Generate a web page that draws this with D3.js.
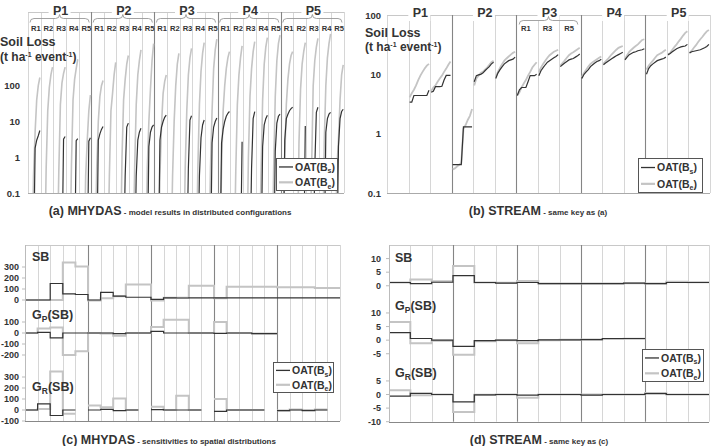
<!DOCTYPE html>
<html><head><meta charset="utf-8">
<script src="https://cdn.jsdelivr.net/npm/d3@7/dist/d3.min.js"></script>
<style>
body{margin:0;background:#fff}
svg{display:block}
text{font-family:"Liberation Sans",Arial,sans-serif;font-weight:bold;fill:#333}
</style></head><body>
<svg id="c" width="713" height="446"></svg>
<script>
// ---------- categories / ticks ----------
const pLabels = ["P1","P2","P3","P4","P5"];
const rLabelsA = ["R1","R2","R3","R4","R5"];
const rLabelsB = ["R1","R3","R5"];
const logTicks = [0.1, 1, 10, 100];
const logTickLabels = ["0.1","1","10","100"];
const cSbTicks = [0,100,200,300], cGpTicks = [-200,-100,0,100], cGrTicks = [-100,0,100,200,300];
const dSbTicks = [0,5,10], dGpTicks = [-5,0,5,10], dGrTicks = [-10,-5,0,5];

// ---------- (a) MHYDAS soil loss, sorted events per P/R (0.001 = below scale) ----------
const aBeP1 = [[0.001,0.001,0.001,0.3,5,40,100,170],[0.001,0.001,0.001,0.5,20,90,200,330],[0.001,0.001,0.001,0.4,30,120,220,330],[0.001,0.001,0.001,0.6,40,150,300,550],[0.001,0.001,0.001,0.001,0.3,3,20,55]];
const aBeP2 = [[0.001,0.001,0.001,0.5,10,50,100,140],[0.001,0.001,0.001,0.3,20,60,200,450],[0.001,0.001,0.001,1,40,150,400,700],[0.001,0.001,0.001,0.5,30,200,500,1000],[0.001,0.001,0.001,0.5,10,80,500,1500]];
const aBeP3 = [[0.001,0.001,0.001,0.3,8,60,130,200],[0.001,0.001,0.001,0.3,10,100,400,800],[0.001,0.001,0.001,0.5,20,200,600,1100],[0.001,0.001,0.001,0.5,30,250,800,1600],[0.001,0.001,0.001,0.5,20,300,1000,2000]];
const aBeP4 = [[0.001,0.001,0.5,20,100,300,600,900],[0.001,0.001,0.001,0.4,30,200,600,1300],[0.001,0.001,0.001,1,50,300,900,1700],[0.001,0.001,0.001,0.4,40,400,1200,2200],[0.001,0.001,0.001,0.5,50,500,1500,2600]];
const aBeP5 = [[0.001,0.001,1,30,150,400,700,900],[0.001,0.001,0.001,2.5,80,400,900,1600],[0.001,0.001,0.001,0.5,100,500,1200,2100],[0.001,0.001,0.001,2.7,100,600,1500,2800],[0.001,0.001,0.001,0.5,3,40,200,380]];
const aBsP1 = [[0.001,0.001,0.001,0.001,1.8,3,4,5.6],[0.001,0.001,0.001,0.001,0.001,0.001,0.001,0.001],[0.001,0.001,0.001,0.001,0.001,0.001,3.2,3.8],[0.001,0.001,0.001,0.001,0.001,0.001,2.9,3.3],[0.001,0.001,0.001,0.001,0.001,0.001,2.8,3.5]];
const aBsP2 = [[0.001,0.001,0.001,0.001,3,4.5,6,7.2],[0.001,0.001,0.001,0.001,0.001,0.001,0.001,0.001],[0.001,0.001,0.001,0.001,0.001,0.3,7,9],[0.001,0.001,0.001,0.001,0.3,3,5,6.5],[0.001,0.001,0.001,0.001,2,5,7,8]];
const aBsP3 = [[0.001,0.001,0.001,3,7,10,13,15],[0.001,0.001,0.001,0.001,0.001,0.001,0.001,0.001],[0.001,0.001,0.001,0.001,0.001,0.5,11,14.5],[0.001,0.001,0.001,0.001,0.3,3.5,8,11],[0.001,0.001,0.001,0.001,2.5,7,10,12.5]];
const aBsP4 = [[0.001,0.001,2.5,6,10,14,17,19],[0.001,0.001,0.001,0.001,0.001,0.001,0.001,2.7],[0.001,0.001,0.001,0.001,0.001,0.5,12,19],[0.001,0.001,0.001,0.001,2,8,12,15],[0.001,0.001,0.001,0.001,1.5,9,14,16]];
const aBsP5 = [[0.001,0.001,3,12,16,20,23,25],[0.001,0.001,0.001,0.001,0.001,0.001,0.001,7.5],[0.001,0.001,0.001,0.001,0.001,0.5,18,25],[0.001,0.001,0.001,0.001,5,12,16,18],[0.001,0.001,0.001,0.001,2,12,19,22]];

// ---------- (b) STREAM soil loss (R1, R3, R5 per P; null = no data) ----------
const bBeP1 = [null,[4.1,4.8,5.5,6.5,8,9.5,11,12.5,14,15],[5.2,6,6.5,7.5,8.5,9.5,11,12.5,14.5,16.5]];
const bBeP2 = [[0.25,0.26,0.28,0.3,0.32,1.2,1.4,1.7,2.0,2.6],[6.5,8.5,9.5,10.5,11,12,13,14.5,16,17],[9,11,13,15,17,18.5,20,21.5,23,24]];
const bBeP3 = [[4.4,5,6,7,8,9.5,11,13,14.5,16],[11,13,15,17,19,21,22.5,24,25,26],[14,15.5,17,19,21,22.5,23.5,25,26.5,28]];
const bBeP4 = [[9,10.5,12,13.5,15,16,17,18,19,20],[15,16.5,18,20,22,24,26,28,29,30],[18,21,24,26,28,30,32,35,38,39]];
const bBeP5 = [[12,14,15.5,17,19,21,22,23,24.5,26],[21,23,26,29,32,36,40,45,50,53],[23,25,28,31,35,39,43,48,53,56]];
const bBsP1 = [null,[3.4,3.4,4.4,4.4,4.4,4.4,4.4,4.4,4.4,5.4],[5.0,5.2,6.2,6.2,6.2,6.3,8,9.6,9.6,9.6]];
const bBsP2 = [[0.3,0.3,0.3,0.3,0.3,1.3,1.3,1.3,1.3,1.3],[7.5,9.5,9.8,10,10.5,11.5,12.5,13.5,15,16],[8.5,10.5,12,13.5,15,16,17,17.5,18,19.5]];
const bBsP3 = [[4.4,5.5,6,6,6,7.5,9.5,9.5,9.5,10],[9.5,11.5,13,14.5,16,17,18,19,20,21.5],[13.5,14.5,15.5,16.5,17.5,18,18.5,19.5,20.5,22]];
const bBsP4 = [[8.5,10,11,12,13.5,14.5,15.5,16.5,17,18],[14.5,15.5,16.5,17.5,18.5,19.5,20.5,21.5,22.5,23.5],[17.5,19.5,21.5,22.5,23.5,24,25,25.5,26,27]];
const bBsP5 = [[10,12.5,14,15,16,17,17.5,18,18.5,19.5],[21.5,22.5,24,25.5,27,28,29,29.5,30,32],[23,24,24.5,25,25.5,26,27,28,29.5,32]];

// ---------- (c) MHYDAS sensitivities (25 = P1R1..P5R5) ----------
const cSbBs = [0,0,150,55,50, 0,70,35,25,25, 5,20,18,20,20, 20,20,20,20,20, 20,20,20,20,20];
const cSbBe = [0,0,0,340,305, -5,15,35,140,140, -5,20,20,130,130, 15,120,120,120,120, 115,115,115,110,110];
const cGpBs = [0,5,-45,0,0, 0,0,-5,0,0, 15,0,0,0,0, -3,0,0,-5,-5, null,null,null,null,null];
const cGpBe = [0,40,50,-200,-165, 0,-5,-25,0,0, 55,120,120,0,0, 100,0,0,-5,-5, null,null,null,null,null];
const cGrBs = [0,55,-50,0,null, 0,5,-5,0,null, 3,0,0,0,null, -12,0,0,0,null, -5,0,-5,0,null];
const cGrBe = [0,10,350,-35,null, 40,25,105,0,null, 30,0,130,0,null, 100,0,0,0,null, -5,5,0,5,null];

// ---------- (d) STREAM sensitivities (15 = P1R1..P5R5) ----------
const dSbBs = [1.2,0.8,1.3, 3.7,1.2,1.0, 1.2,0.8,0.8, 0.8,0.8,1.0, 0.8,1.2,1.2];
const dSbBe = [1.2,2.3,1.7, 7.3,1.2,1.1, 1.8,0.8,0.8, 0.8,0.8,0.9, 0.8,1.5,1.3];
const dGpBs = [2.8,0.6,0, -2.3,-0.2,0, -0.2,0.1,0.1, 0.2,0.6,0.6, null,null,null];
const dGpBe = [6.7,-1.1,-0.2, -5.4,-0.4,0, -1.1,0,0.1, 0.2,0.4,0.5, null,null,null];
const dGrBs = [-0.6,0.4,0, -2.7,-0.1,0, -0.2,0,0, -0.2,0,0, 0.3,0,0];
const dGrBe = [1.6,-0.3,0, -6.4,-0.1,0, -1.2,0,0, 0,0,0, 0.6,0,0];

// ---------- styles ----------
const BE = "#c4c4c4", BS = "#333";
const svg = d3.select("#c");
let clipId = 0;

function frame(L, R, T, B, nP, nR, bottomColor) {
  const g = svg.append("g");
  const x = d3.scaleLinear().domain([0, nP*nR]).range([L, R]);
  const n = nP*nR;
  for (let k = 0; k <= n; k++) {
    if (k % nR === 0 && k > 0 && k < n) continue;
    const xx = Math.round(x(k)) + 0.5;
    g.append("line").attr("x1", xx).attr("x2", xx).attr("y1", T).attr("y2", B)
      .attr("stroke", "#d6d6d6").attr("stroke-width", 1);
  }
  g.append("line").attr("x1", L).attr("x2", R).attr("y1", Math.round(T)+0.5).attr("y2", Math.round(T)+0.5).attr("stroke", "#c8c8c8");
  g.append("line").attr("x1", L).attr("x2", R).attr("y1", Math.round(B)+0.5).attr("y2", Math.round(B)+0.5).attr("stroke", bottomColor || "#aaa");
  for (let p = 1; p < nP; p++) {
    const xx = Math.round(x(p*nR)) + 0.5;
    g.append("line").attr("x1", xx).attr("x2", xx).attr("y1", T).attr("y2", B)
      .attr("stroke", "#858585").attr("stroke-width", 1.1);
  }
  const id = "clip" + (clipId++);
  svg.append("clipPath").attr("id", id).append("rect")
    .attr("x", L).attr("y", T).attr("width", R-L).attr("height", B-T);
  return {x, id};
}

function brace(x0, x1, y) {
  const m = (x0+x1)/2;
  return `M${x0},${y+4} Q${x0},${y} ${x0+4},${y} L${m-4},${y} Q${m},${y} ${m},${y-4} Q${m},${y} ${m+4},${y} L${x1-4},${y} Q${x1},${y} ${x1},${y+4}`;
}

function legend(x, y, w, h) {
  const g = svg.append("g");
  g.append("rect").attr("x", x+0.5).attr("y", y+0.5).attr("width", w).attr("height", h)
    .attr("fill", "#fff").attr("stroke", "#555").attr("stroke-width", 1);
  [["s", BS, 1.3], ["e", BE, 2.2]].forEach((d, i) => {
    const cy = y + h*0.28 + i*h*0.48;
    g.append("line").attr("x1", x+3).attr("x2", x+17).attr("y1", cy).attr("y2", cy)
      .attr("stroke", d[1]).attr("stroke-width", d[2]);
    const t = g.append("text").attr("x", x+19).attr("y", cy+3.8).attr("font-size", 10.5);
    t.append("tspan").text("OAT(B");
    t.append("tspan").attr("font-size", 7).attr("dy", 2.5).text(d[0]);
    t.append("tspan").attr("dy", -2.5).text(")");
  });
}

function soilLossTitle(x, y1, y2) {
  svg.append("text").attr("x", x).attr("y", y1).attr("font-size", 12.5).text("Soil Loss");
  const t = svg.append("text").attr("x", x).attr("y", y2).attr("font-size", 12);
  t.append("tspan").text("(t ha");
  t.append("tspan").attr("font-size", 7).attr("dy", -4).text("-1");
  t.append("tspan").attr("dy", 4).text(" event");
  t.append("tspan").attr("font-size", 7).attr("dy", -4).text("-1");
  t.append("tspan").attr("dy", 4).text(")");
}

function caption(cx, y, big, small) {
  const t = svg.append("text").attr("x", cx).attr("y", y).attr("text-anchor", "middle");
  t.append("tspan").attr("font-size", 12.5).text(big);
  t.append("tspan").attr("font-size", 8).text("  - " + small);
}

function subLabel(x, y, main, sub) {
  const t = svg.append("text").attr("x", x).attr("y", y).attr("font-size", 12.5);
  t.append("tspan").text(main);
  if (sub) {
    t.append("tspan").attr("font-size", 8.5).attr("dy", 3).text(sub);
    t.append("tspan").attr("dy", -3).text("(SB)");
  }
}

function pHeader(x, nR, T, ty) {
  pLabels.forEach((p, i) => {
    const cx = x(i*nR + nR/2);
    svg.append("rect").attr("x", cx-11).attr("y", T-6).attr("width", 22).attr("height", 12).attr("fill", "#fff");
    svg.append("text").attr("x", cx+1).attr("y", ty).attr("text-anchor", "middle").attr("font-size", 12.5).text(p);
  });
}

// ================= (a) =================
{
  const L = 28, R = 344, T = 12, B = 193;
  const f = frame(L, R, T, B, 5, 5);
  const y = d3.scaleLog().domain([0.1, 10000]).range([B, 14.2]);
  const g = svg.append("g").attr("clip-path", `url(#${f.id})`);
  const line = d3.line();
  const draw = (groups, color, w) => groups.forEach((vals, k) => {
    const pts = vals.map((v, j) => [f.x(k + (j + 0.5)/vals.length), y(v)]);
    g.append("path").attr("d", line(pts)).attr("fill", "none").attr("stroke", color).attr("stroke-width", w);
  });
  draw([aBeP1, aBeP2, aBeP3, aBeP4, aBeP5].flat(), BE, 1.6);
  draw([aBsP1, aBsP2, aBsP3, aBsP4, aBsP5].flat(), BS, 1.2);
  logTicks.forEach((t, i) => {
    svg.append("text").attr("x", 20).attr("y", y(t)+3.5).attr("text-anchor", "end").attr("font-size", 9.5).text(logTickLabels[i]);
  });
  pHeader(f.x, 5, T, 15);
  for (let p = 0; p < 5; p++) {
    svg.append("path").attr("d", brace(f.x(p*5)+2, f.x(p*5+5)-2, 18.5))
      .attr("fill", "none").attr("stroke", "#999").attr("stroke-width", 0.9);
    rLabelsA.forEach((r, i) => {
      svg.append("text").attr("x", f.x(p*5+i+0.5)+1.5).attr("y", 30.5).attr("text-anchor", "middle")
        .attr("font-size", 7.6).attr("fill", "#444").text(r);
    });
  }
  soilLossTitle(0, 46, 61);
  legend(276, 158, 61, 32);
  caption(170, 215, "(a) MHYDAS", "model results in distributed configurations");
}

// ================= (b) =================
{
  const L = 387, R = 710, T = 15, B = 193;
  const f = frame(L, R, T, B, 5, 3);
  const y = d3.scaleLog().domain([0.1, 100]).range([B, T]);
  const g = svg.append("g").attr("clip-path", `url(#${f.id})`);
  const line = d3.line();
  const draw = (groups, color, w) => groups.forEach((vals, k) => {
    if (!vals) return;
    const pts = vals.map((v, j) => [f.x(k + 0.05 + 0.9*j/(vals.length-1)), y(v)]);
    g.append("path").attr("d", line(pts)).attr("fill", "none").attr("stroke", color).attr("stroke-width", w);
  });
  draw([bBeP1, bBeP2, bBeP3, bBeP4, bBeP5].flat(), BE, 1.8);
  draw([bBsP1, bBsP2, bBsP3, bBsP4, bBsP5].flat(), BS, 1.2);
  logTicks.forEach((t, i) => {
    svg.append("text").attr("x", 381).attr("y", y(t)+3.5).attr("text-anchor", "end").attr("font-size", 9.5).text(logTickLabels[i]);
  });
  pHeader(f.x, 3, T, 17);
  svg.append("path").attr("d", brace(f.x(6)+3, f.x(9)-3, 20.5))
    .attr("fill", "none").attr("stroke", "#999").attr("stroke-width", 0.9);
  rLabelsB.forEach((r, i) => {
    svg.append("text").attr("x", f.x(6+i+0.5)-1).attr("y", 31).attr("text-anchor", "middle")
      .attr("font-size", 7.6).attr("fill", "#444").text(r);
  });
  soilLossTitle(365, 37, 51);
  legend(638, 158, 64, 34);
  caption(538, 215, "(b) STREAM", "same key as (a)");
}

// ---------- step panels ----------
function stepPanel(L, R, T, B, nR, domain, series, offsets, tickSets, tickX) {
  const f = frame(L, R, T, B, 5, nR, "#888");
  const y = d3.scaleLinear().domain(domain).range([B, T]);
  const g = svg.append("g").attr("clip-path", `url(#${f.id})`);
  const line = d3.line().defined(d => d != null);
  series.forEach(([vals, off, color, w]) => {
    const pts = vals.flatMap((v, k) => v == null ? [null] : [[f.x(k), y(v+off)], [f.x(k+1), y(v+off)]]);
    g.append("path").attr("d", line(pts)).attr("fill", "none").attr("stroke", color).attr("stroke-width", w);
  });
  tickSets.forEach((ticks, i) => ticks.forEach(t => {
    const yy = y(t + offsets[i]);
    svg.append("text").attr("x", tickX).attr("y", yy+3.3).attr("text-anchor", "end").attr("font-size", 9).text(String(t));
    svg.append("line").attr("x1", L-3).attr("x2", L).attr("y1", yy).attr("y2", yy).attr("stroke", "#bbb");
  }));
  svg.append("line").attr("x1", L+0.5).attr("x2", L+0.5).attr("y1", T).attr("y2", B).attr("stroke", "#bbb");
  return f;
}

// ================= (c) =================
{
  const off = [1000, 700, 0];
  stepPanel(25, 340, 245, 421, 5, [-100, 1500], [
    [cSbBe, off[0], BE, 2], [cGpBe, off[1], BE, 2], [cGrBe, off[2], BE, 2],
    [cSbBs, off[0], BS, 1.2], [cGpBs, off[1], BS, 1.2], [cGrBs, off[2], BS, 1.2]
  ], off, [cSbTicks, cGpTicks, cGrTicks], 19);
  subLabel(32, 261, "SB");
  subLabel(32, 319, "G", "P");
  subLabel(32, 391, "G", "R");
  legend(273, 362, 60, 30);
  caption(169, 444, "(c) MHYDAS", "sensitivities to spatial distributions");
}

// ================= (d) =================
{
  const off = [40, 20, 0];
  stepPanel(389, 709, 245, 421.7, 3, [-10, 55], [
    [dSbBe, off[0], BE, 2], [dGpBe, off[1], BE, 2], [dGrBe, off[2], BE, 2],
    [dSbBs, off[0], BS, 1.2], [dGpBs, off[1], BS, 1.2], [dGrBs, off[2], BS, 1.2]
  ], off, [dSbTicks, dGpTicks, dGrTicks], 381);
  subLabel(395, 262, "SB");
  subLabel(395, 310, "G", "P");
  subLabel(395, 377, "G", "R");
  legend(642, 349, 61, 32);
  caption(539, 444, "(d) STREAM", "same key as (c)");
}
</script></body></html>
